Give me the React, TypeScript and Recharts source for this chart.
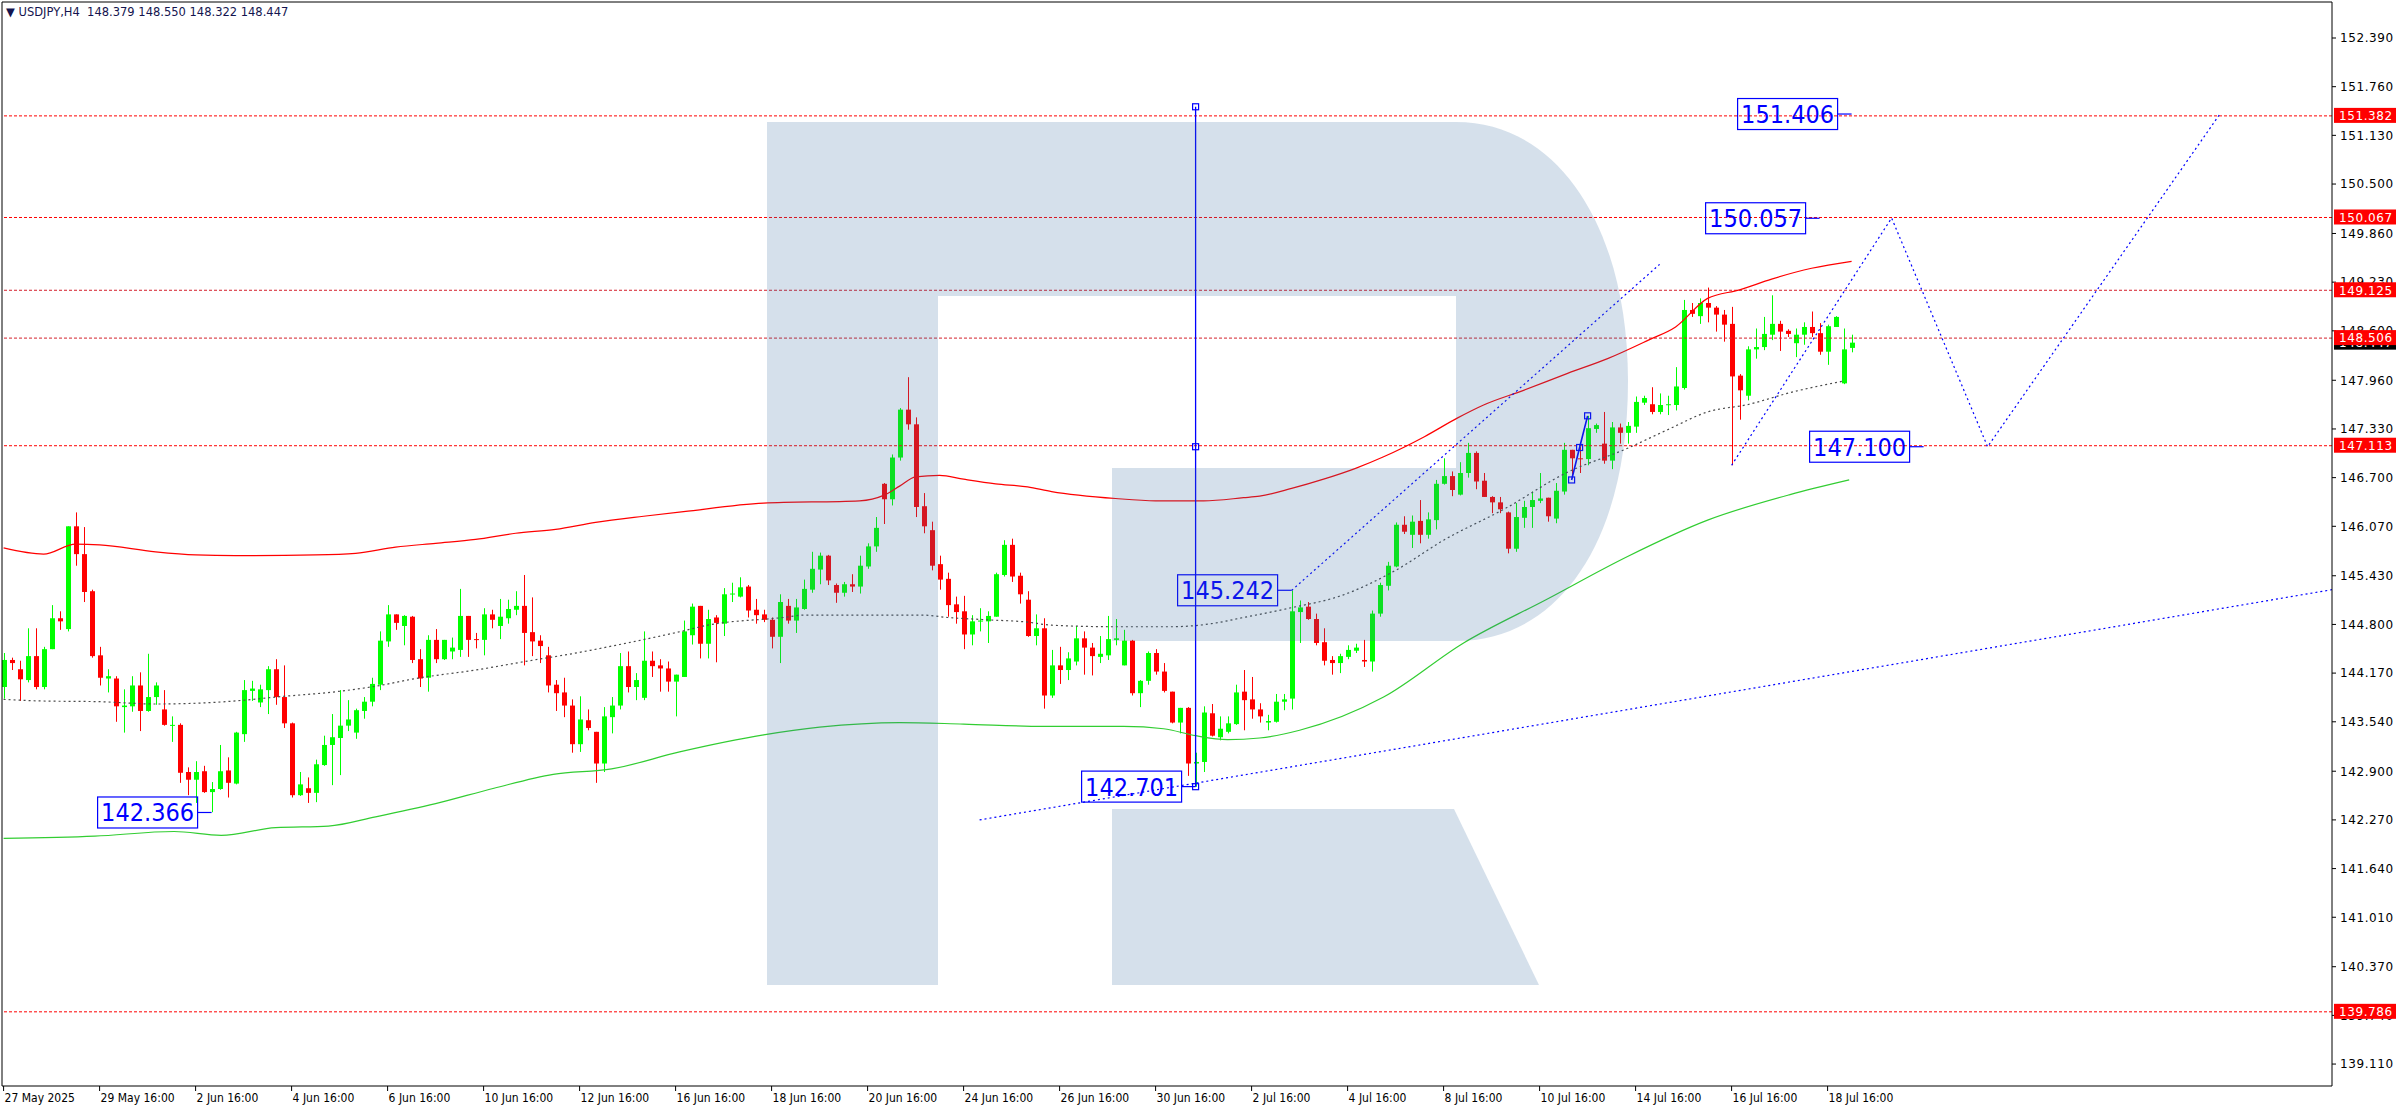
import React from 'react';
import { ComposedChart, Bar, Line, Scatter, XAxis, YAxis, ReferenceLine } from 'recharts';

// USDJPY H4, 27 May - 21 Jul 2025, bar index 0..231
const OPEN = [
  143.99, 144.34, 144.22, 144.08, 144.39, 143.99, 144.48, 144.88, 144.74, 146.07,
  145.71, 145.23, 144.40, 144.10, 144.10, 143.73, 143.74, 144.01, 143.68, 143.86,
  143.70, 143.49, 143.50, 142.89, 142.79, 142.90, 142.63, 142.67, 142.91, 142.74,
  143.38, 143.94, 143.79, 143.95, 144.22, 143.86, 143.52, 142.59, 142.68, 142.62,
  142.98, 143.24, 143.33, 143.49, 143.40, 143.68, 143.80, 144.02, 144.58, 144.93,
  144.78, 144.90, 144.35, 144.11, 144.60, 144.35, 144.45, 144.47, 144.91, 144.61,
  144.60, 144.93, 144.78, 144.88, 144.99, 145.04, 144.70, 144.59, 144.40, 144.02,
  143.92, 143.75, 143.25, 143.56, 143.41, 143.00, 143.60, 143.75, 144.26, 143.99,
  143.85, 144.33, 144.27, 144.23, 144.06, 144.12, 144.66, 145.04, 144.55, 144.89,
  144.81, 145.19, 145.16, 145.29, 144.99, 144.93, 144.86, 144.64, 145.04, 144.85,
  145.00, 145.25, 145.51, 145.69, 145.31, 145.21, 145.32, 145.29, 145.55, 145.81,
  146.62, 146.42, 146.96, 147.58, 147.39, 146.33, 146.02, 145.58, 145.39, 145.06,
  144.97, 144.67, 144.84, 144.84, 144.90, 145.44, 145.83, 145.43, 145.12, 144.65,
  144.75, 143.88, 144.27, 144.21, 144.32, 144.62, 144.50, 144.38, 144.40, 144.60,
  144.27, 144.59, 143.91, 144.07, 144.43, 144.19, 143.93, 143.53, 143.72, 143.00,
  143.02, 143.65, 143.34, 143.41, 143.51, 143.93, 143.83, 143.70, 143.53, 143.54,
  143.80, 143.84, 144.96, 145.03, 144.87, 144.57, 144.34, 144.30, 144.38, 144.46,
  144.34, 144.32, 144.94, 145.30, 145.55, 146.09, 145.96, 146.14, 145.96, 146.15,
  146.62, 146.72, 146.48, 146.76, 147.02, 146.66, 146.45, 146.38, 146.25, 145.78,
  146.18, 146.32, 146.40, 146.44, 146.17, 146.52, 147.06, 146.95, 146.94, 147.33,
  147.14, 146.92, 147.35, 147.28, 147.36, 147.67, 147.65, 147.55, 147.64, 147.64,
  147.86, 148.87, 148.79, 148.96, 148.90, 148.81, 148.69, 148.02, 147.76, 148.36,
  148.39, 148.55, 148.69, 148.60, 148.44, 148.55, 148.65, 148.57, 148.33, 148.65,
  147.92, 148.379,
];
const HIGH = [
  144.43, 144.37, 144.33, 144.75, 144.75, 144.51, 145.05, 144.97, 146.07, 146.25,
  146.06, 145.25, 144.51, 144.22, 144.13, 143.96, 144.13, 144.18, 144.42, 144.05,
  143.95, 143.61, 143.52, 142.95, 143.03, 142.97, 142.76, 143.24, 143.08, 143.41,
  144.08, 144.07, 144.02, 144.26, 144.35, 144.27, 143.53, 142.89, 142.82, 143.05,
  143.36, 143.64, 143.95, 143.82, 143.71, 143.86, 144.11, 144.71, 145.05, 144.93,
  144.92, 144.91, 144.48, 144.66, 144.74, 144.60, 144.63, 145.26, 144.91, 144.69,
  145.01, 144.99, 145.13, 145.12, 145.23, 145.44, 145.15, 144.66, 144.51, 144.08,
  144.11, 143.83, 143.87, 143.70, 143.41, 143.73, 143.86, 144.43, 144.45, 144.17,
  144.71, 144.45, 144.35, 144.32, 144.15, 144.85, 145.07, 145.04, 144.99, 144.92,
  145.27, 145.34, 145.41, 145.31, 145.13, 144.99, 144.89, 145.19, 145.13, 145.13,
  145.38, 145.74, 145.73, 145.70, 145.33, 145.35, 145.45, 145.69, 145.85, 146.19,
  146.63, 147.00, 147.60, 148.00, 147.48, 146.50, 146.13, 145.69, 145.47, 145.16,
  145.17, 144.92, 145.01, 144.97, 145.47, 145.89, 145.91, 145.47, 145.23, 144.93,
  144.88, 144.47, 144.51, 144.44, 144.78, 144.71, 144.56, 144.65, 144.91, 144.87,
  144.73, 144.60, 144.08, 144.45, 144.48, 144.30, 143.93, 143.72, 143.73, 143.14,
  143.74, 143.77, 143.61, 143.61, 144.02, 144.21, 144.12, 143.78, 143.63, 143.90,
  143.90, 145.24, 145.11, 145.09, 144.94, 144.75, 144.39, 144.42, 144.53, 144.55,
  144.60, 144.98, 145.34, 145.61, 146.12, 146.20, 146.21, 146.41, 146.25, 146.67,
  146.95, 146.78, 146.90, 147.15, 147.04, 146.76, 146.46, 146.45, 146.26, 146.37,
  146.40, 146.52, 146.76, 146.44, 146.63, 147.15, 147.06, 147.10, 147.50, 147.40,
  147.55, 147.42, 147.40, 147.42, 147.75, 147.76, 147.87, 147.79, 147.76, 148.13,
  149.00, 148.96, 149.02, 149.16, 148.92, 148.87, 148.91, 148.04, 148.40, 148.63,
  148.78, 149.06, 148.73, 148.62, 148.63, 148.71, 148.85, 148.70, 148.68, 148.79,
  148.63, 148.55,
];
const LOW = [
  143.84, 144.21, 143.81, 144.05, 143.96, 143.96, 144.48, 144.73, 144.71, 145.56,
  145.09, 144.37, 144.01, 143.92, 143.54, 143.40, 143.67, 143.42, 143.67, 143.76,
  143.49, 143.28, 142.75, 142.59, 142.49, 142.62, 142.37, 142.66, 142.56, 142.73,
  143.28, 143.81, 143.73, 143.64, 143.76, 143.46, 142.56, 142.58, 142.49, 142.50,
  142.97, 142.72, 142.85, 143.42, 143.32, 143.58, 143.74, 143.95, 144.51, 144.73,
  144.53, 144.30, 143.99, 143.93, 144.30, 144.34, 144.35, 144.38, 144.38, 144.49,
  144.40, 144.75, 144.61, 144.81, 144.92, 144.27, 144.39, 144.30, 143.92, 143.68,
  143.60, 143.14, 143.15, 143.43, 142.75, 142.89, 143.39, 143.70, 143.92, 143.82,
  143.82, 144.12, 143.93, 143.93, 143.61, 144.12, 144.54, 144.36, 144.36, 144.31,
  144.65, 145.09, 145.15, 144.89, 144.81, 144.83, 144.49, 144.30, 144.81, 144.69,
  144.99, 145.21, 145.32, 145.31, 145.08, 145.16, 145.22, 145.20, 145.52, 145.74,
  146.10, 146.34, 146.92, 147.32, 146.19, 145.98, 145.50, 145.25, 144.90, 144.81,
  144.48, 144.53, 144.71, 144.56, 144.90, 145.42, 145.35, 145.07, 144.64, 144.53,
  143.71, 143.85, 144.03, 144.08, 144.27, 144.15, 144.14, 144.30, 144.34, 144.53,
  144.27, 143.88, 143.73, 144.02, 144.15, 143.92, 143.52, 143.39, 142.84, 142.70,
  142.89, 143.35, 143.30, 143.39, 143.50, 143.43, 143.58, 143.53, 143.43, 143.53,
  143.69, 143.70, 144.56, 144.86, 144.53, 144.27, 144.15, 144.17, 144.35, 144.43,
  144.25, 144.19, 144.90, 145.24, 145.54, 145.97, 145.79, 145.85, 145.91, 146.03,
  146.61, 146.46, 146.47, 146.70, 146.55, 146.45, 146.24, 146.24, 145.72, 145.74,
  146.05, 146.05, 146.37, 146.13, 146.11, 146.48, 146.69, 146.76, 146.86, 147.28,
  146.88, 146.81, 147.14, 147.14, 147.28, 147.64, 147.52, 147.52, 147.51, 147.57,
  147.84, 148.78, 148.69, 148.71, 148.59, 148.46, 146.86, 147.45, 147.70, 148.24,
  148.35, 148.48, 148.34, 148.52, 148.26, 148.42, 148.52, 148.29, 148.16, 148.65,
  147.91, 148.322,
];
const CLOSE = [
  144.34, 144.30, 144.09, 144.39, 143.99, 144.48, 144.88, 144.84, 146.07, 145.71,
  145.22, 144.39, 144.11, 144.13, 143.74, 143.75, 144.01, 143.68, 143.86, 144.01,
  143.50, 143.50, 142.88, 142.79, 142.89, 142.63, 142.67, 142.90, 142.75, 143.40,
  143.95, 143.97, 143.96, 144.22, 143.86, 143.52, 142.59, 142.73, 142.62, 142.99,
  143.24, 143.34, 143.49, 143.57, 143.69, 143.80, 144.03, 144.59, 144.93, 144.82,
  144.91, 144.34, 144.10, 144.60, 144.35, 144.60, 144.50, 144.91, 144.60, 144.60,
  144.93, 144.86, 144.90, 145.00, 145.04, 144.69, 144.58, 144.52, 144.01, 143.91,
  143.75, 143.25, 143.57, 143.46, 143.00, 143.61, 143.75, 144.26, 143.99, 144.08,
  144.33, 144.26, 144.23, 144.06, 144.15, 144.71, 145.03, 144.55, 144.87, 144.82,
  145.19, 145.20, 145.28, 144.98, 144.92, 144.86, 144.64, 145.09, 144.85, 145.02,
  145.26, 145.52, 145.69, 145.37, 145.21, 145.32, 145.29, 145.56, 145.81, 146.05,
  146.42, 146.96, 147.58, 147.39, 146.32, 146.07, 145.56, 145.38, 145.05, 144.96,
  144.67, 144.84, 144.85, 144.91, 145.45, 145.83, 145.42, 145.19, 144.65, 144.75,
  143.88, 144.27, 144.21, 144.36, 144.62, 144.50, 144.39, 144.42, 144.61, 144.62,
  144.59, 143.91, 144.07, 144.43, 144.19, 143.94, 143.53, 143.72, 143.00, 143.02,
  143.66, 143.36, 143.45, 143.52, 143.92, 143.82, 143.70, 143.61, 143.55, 143.80,
  143.83, 144.97, 145.02, 144.87, 144.56, 144.33, 144.30, 144.39, 144.47, 144.50,
  144.32, 144.94, 145.31, 145.56, 146.09, 146.00, 146.13, 145.96, 146.16, 146.62,
  146.72, 146.54, 146.76, 147.02, 146.65, 146.45, 146.38, 146.29, 145.78, 146.19,
  146.32, 146.41, 146.43, 146.20, 146.53, 147.06, 146.95, 146.94, 147.34, 147.38,
  146.92, 147.35, 147.28, 147.37, 147.68, 147.73, 147.55, 147.64, 147.65, 147.88,
  148.87, 148.82, 148.96, 148.90, 148.81, 148.68, 148.01, 147.83, 148.36, 148.39,
  148.56, 148.69, 148.59, 148.56, 148.55, 148.65, 148.57, 148.33, 148.66, 148.78,
  148.36, 148.447,
];

// indicator lines, read at sample bars
const MA_RED_BARS = [0, 5, 9, 12, 19, 24, 29, 39, 44, 49, 54, 59, 64, 69, 74, 80, 85, 95, 107, 110, 112, 114, 117, 120, 124, 128, 131, 139, 144, 150, 155, 157, 161, 165, 169, 172.5, 177.6, 181.7, 185, 190, 195.5, 200.5, 205.6, 209, 213, 217, 221, 226, 231];
const MA_RED = [145.79, 145.71, 145.84, 145.83, 145.74, 145.70, 145.69, 145.70, 145.72, 145.80, 145.85, 145.90, 145.98, 146.03, 146.12, 146.20, 146.26, 146.37, 146.40, 146.47, 146.59, 146.71, 146.73, 146.68, 146.62, 146.58, 146.52, 146.43, 146.40, 146.40, 146.44, 146.46, 146.56, 146.68, 146.82, 146.97, 147.23, 147.47, 147.64, 147.83, 148.05, 148.24, 148.48, 148.65, 149.02, 149.13, 149.27, 149.41, 149.50];
const MA_GREEN_BARS = [0, 11.4, 21.3, 27.2, 34, 40.6, 46.5, 54, 61.3, 68.7, 76, 84.5, 95, 102, 112, 120, 130, 140, 145, 149, 153, 157, 162, 172.5, 182.5, 192.8, 203, 213, 223.3, 230.7];
const MA_GREEN = [142.03, 142.06, 142.12, 142.07, 142.17, 142.19, 142.31, 142.48, 142.68, 142.86, 142.93, 143.15, 143.37, 143.47, 143.53, 143.51, 143.48, 143.48, 143.45, 143.36, 143.31, 143.33, 143.43, 143.86, 144.56, 145.12, 145.68, 146.15, 146.48, 146.67];
const MA_MID_BARS = [0, 4.5, 12, 19, 29, 34, 41.6, 46.5, 51.5, 59, 66.3, 71, 77, 84.7, 88, 97.5, 100, 115, 118, 123, 128, 131, 139, 146, 151, 155, 160.7, 167.4, 174, 180, 187.7, 195.3, 203, 208, 213, 218.2, 223.3, 230];
const MA_MID = [143.83, 143.81, 143.80, 143.77, 143.81, 143.86, 143.93, 144.00, 144.10, 144.21, 144.34, 144.42, 144.54, 144.71, 144.79, 144.89, 144.92, 144.92, 144.89, 144.86, 144.83, 144.79, 144.77, 144.77, 144.81, 144.89, 145.01, 145.18, 145.50, 145.89, 146.30, 146.76, 147.08, 147.32, 147.55, 147.65, 147.80, 147.95];

// drawn objects
const SUPPORT_BARS = [122, 291.05];
const SUPPORT_PRICES = [142.27, 145.25];
const CHANNEL_BARS = [161, 207];
const CHANNEL_PRICES = [145.24, 149.46];
const FORECAST_BARS = [216, 236, 248, 277];
const FORECAST_PRICES = [146.86, 150.06, 147.10, 151.40];
const VLINE_BARS = [149, 149, 149];
const VLINE_PRICES = [151.50, 147.10, 142.70];
const SWING_BARS = [196, 197, 198];
const SWING_PRICES = [146.67, 147.09, 147.50];

const NOTE_BARS = [26, 149, 161, 240, 227, 231];
const NOTE_PRICES = [142.366, 142.701, 145.242, 147.100, 150.057, 151.406];
const NOTE_TEXT = ['142.366', '142.701', '145.242', '147.100', '150.057', '151.406'];

const LEVELS = [151.382, 150.067, 149.125, 148.506, 147.113, 139.786];
const LEVEL_LINE_COLORS = ['#ff0000', '#ff0000', '#d4202c', '#d4202c', '#ff0000', '#ff0000'];
const LAST_PRICE = 148.447;

const TIME_TICKS = [0, 12, 24, 36, 48, 60, 72, 84, 96, 108, 120, 132, 144, 156, 168, 180, 192, 204, 216, 228];
const TIME_LABELS = ['27 May 2025', '29 May 16:00', '2 Jun 16:00', '4 Jun 16:00', '6 Jun 16:00', '10 Jun 16:00', '12 Jun 16:00', '16 Jun 16:00', '18 Jun 16:00', '20 Jun 16:00', '24 Jun 16:00', '26 Jun 16:00', '30 Jun 16:00', '2 Jul 16:00', '4 Jul 16:00', '8 Jul 16:00', '10 Jul 16:00', '14 Jul 16:00', '16 Jul 16:00', '18 Jul 16:00'];
const PRICE_TICKS = [152.39, 151.76, 151.13, 150.5, 149.86, 149.23, 148.6, 147.96, 147.33, 146.7, 146.07, 145.43, 144.8, 144.17, 143.54, 142.9, 142.27, 141.64, 141.01, 140.37, 139.74, 139.11];

const W = 2396;
const H = 1110;
const X_DOMAIN = [-0.2, 291.05];
const Y_DOMAIN = [138.826, 152.856];
const BULL = '#00ff00';
const BEAR = '#ff0000';
const BLUE = '#0000ff';
const AXIS_FONT = "'DejaVu Sans', sans-serif";
const NARROW_FONT = "'DejaVu Sans Condensed', 'Liberation Sans Narrow', 'DejaVu Sans', sans-serif";

// plain ticks first, then the price boxes so they paint over them
const AXIS_TICKS = [...PRICE_TICKS, LAST_PRICE, ...LEVELS];

const pts = (bars: number[], vals: number[]) => bars.map((b, i) => ({ x: b, v: vals[i] }));

const CandleShape = (props: any) => {
  const { x, y, width, height, payload } = props;
  if (!payload || x == null) return null;
  const { open, close, high, low } = payload;
  const top = Math.min(y, y + height);
  const h = Math.abs(height);
  const k = h / Math.max(high - low, 1e-6);
  const cx = Math.round(x + width / 2);
  const bTop = top + (high - Math.max(open, close)) * k;
  const bBot = top + (high - Math.min(open, close)) * k;
  const col = close >= open ? BULL : BEAR;
  return (
    <g>
      <rect x={cx} y={top} width={1} height={Math.max(h, 1)} fill={col} />
      <rect x={cx - 2} y={bTop} width={5} height={Math.max(bBot - bTop, 1)} fill={col} />
    </g>
  );
};

const TimeTick = (props: any) => {
  const { x, y, payload } = props;
  const label = TIME_LABELS[TIME_TICKS.indexOf(payload.value)];
  return (
    <g>
      <line x1={x} x2={x} y1={y} y2={y + 5} stroke="#000" />
      <text x={x + 1} y={y + 16} fontSize={12} fontFamily={NARROW_FONT} fill="#000">{label}</text>
    </g>
  );
};

const PriceTick = (props: any) => {
  const { x, y, payload } = props;
  const v = payload.value;
  const isLevel = LEVELS.includes(v);
  const isLast = v === LAST_PRICE;
  if (isLevel || isLast) {
    return (
      <g>
        <rect x={x + 2} y={y - 8} width={62} height={15} fill={isLast ? '#000' : '#ff0000'} />
        <text x={x + 7} y={y} dy="0.36em" fontSize={12} letterSpacing={0.6} fontFamily={AXIS_FONT} fill="#fff">
          {v.toFixed(3)}
        </text>
      </g>
    );
  }
  return (
    <g>
      <line x1={x} x2={x + 4} y1={y} y2={y} stroke="#000" />
      <text x={x + 8} y={y} dy="0.36em" fontSize={12} letterSpacing={0.6} fontFamily={AXIS_FONT} fill="#000">
        {v.toFixed(3)}
      </text>
    </g>
  );
};

const NoteShape = (props: any) => {
  const { cx, cy, payload } = props;
  const right = cx - 14;
  const w = 100;
  const h = 31;
  return (
    <g>
      <line x1={right} x2={cx} y1={cy} y2={cy} stroke={BLUE} strokeWidth={1.2} />
      <rect x={right - w} y={cy - h / 2} width={w} height={h} fill="none" stroke={BLUE} strokeWidth={1.2} />
      <text x={right - w / 2} y={cy} dy="0.36em" textAnchor="middle" fontSize={25} fontFamily={NARROW_FONT} fill={BLUE}>
        {payload.text}
      </text>
    </g>
  );
};

const squareDot = (props: any) => (
  <rect key={`sq-${props.index}`} x={props.cx - 3} y={props.cy - 3} width={6} height={6} fill="#fff" fillOpacity={0} stroke={BLUE} strokeWidth={1.2} />
);

export default function App() {
  const candles = OPEN.map((o, i) => ({
    x: i, open: o, high: HIGH[i], low: LOW[i], close: CLOSE[i], range: [LOW[i], HIGH[i]],
  }));
  const notes = NOTE_BARS.map((b, i) => ({ x: b, v: NOTE_PRICES[i], text: NOTE_TEXT[i] }));

  return (
    <div style={{ position: 'absolute', left: 0, top: 0, width: W, height: H, background: '#fff', overflow: 'hidden' }}>
      <ComposedChart width={W} height={H} data={candles} margin={{ top: 2, right: 0, bottom: 0, left: 2 }}>
        <XAxis
          type="number" dataKey="x" domain={X_DOMAIN} allowDataOverflow ticks={TIME_TICKS} interval={0}
          tick={<TimeTick />} tickLine={false} tickSize={0} tickMargin={0} height={24} axisLine={{ stroke: '#000' }}
        />
        <YAxis
          type="number" orientation="right" domain={Y_DOMAIN} allowDataOverflow ticks={AXIS_TICKS} interval={0}
          tick={<PriceTick />} tickLine={false} tickSize={0} tickMargin={0} width={64} axisLine={{ stroke: '#000' }}
        />
        <ReferenceLine y={Y_DOMAIN[1]} stroke="#000" />
        <ReferenceLine x={X_DOMAIN[0]} stroke="#000" />

        {LEVELS.map((lv, i) => (
          <ReferenceLine key={lv} y={lv} stroke={LEVEL_LINE_COLORS[i]} strokeDasharray="3 2" />
        ))}

        <Line data={pts(MA_RED_BARS, MA_RED)} dataKey="v" type="monotone" stroke="#ff0000" strokeWidth={1.2} dot={false} isAnimationActive={false} />
        <Line data={pts(MA_GREEN_BARS, MA_GREEN)} dataKey="v" type="monotone" stroke="#32cd32" strokeWidth={1.2} dot={false} isAnimationActive={false} />
        <Line data={pts(MA_MID_BARS, MA_MID)} dataKey="v" type="monotone" stroke="#4a4a4a" strokeWidth={1.2} strokeDasharray="2 3" dot={false} isAnimationActive={false} />

        <Bar dataKey="range" barSize={5} shape={<CandleShape />} isAnimationActive={false} />

        <Line data={pts(SUPPORT_BARS, SUPPORT_PRICES)} dataKey="v" type="linear" stroke={BLUE} strokeWidth={1.2} strokeDasharray="2 3" dot={false} isAnimationActive={false} />
        <Line data={pts(CHANNEL_BARS, CHANNEL_PRICES)} dataKey="v" type="linear" stroke={BLUE} strokeWidth={1.2} strokeDasharray="2 3" dot={false} isAnimationActive={false} />
        <Line data={pts(FORECAST_BARS, FORECAST_PRICES)} dataKey="v" type="linear" stroke={BLUE} strokeWidth={1.2} strokeDasharray="2 3" dot={false} isAnimationActive={false} />
        <Line data={pts(VLINE_BARS, VLINE_PRICES)} dataKey="v" type="linear" stroke={BLUE} strokeWidth={1.3} dot={squareDot} isAnimationActive={false} />
        <Line data={pts(SWING_BARS, SWING_PRICES)} dataKey="v" type="linear" stroke={BLUE} strokeWidth={1.6} dot={squareDot} isAnimationActive={false} />

        <Scatter data={notes} dataKey="v" shape={<NoteShape />} isAnimationActive={false} />
      </ComposedChart>

      {/* broker logo watermark, drawn over the plot */}
      <svg width={W} height={H} style={{ position: 'absolute', left: 0, top: 0, pointerEvents: 'none' }}>
        <g fill="rgb(57,108,160)" fillOpacity={0.21}>
          <path d="M767,122 H1456 C1560,122 1628,230 1628,381 C1628,540 1560,641 1456,641 H1112 V468 H1456 V296 H938 V985 H767 Z" />
          <path d="M1112,809 H1454 L1539,985 H1112 Z" />
        </g>
      </svg>

      <div style={{ position: 'absolute', left: 6, top: 5, fontFamily: AXIS_FONT, fontSize: 11.5, color: '#14144f', whiteSpace: 'pre', lineHeight: '14px' }}>
        {'▼ USDJPY,H4  148.379 148.550 148.322 148.447'}
      </div>
    </div>
  );
}
